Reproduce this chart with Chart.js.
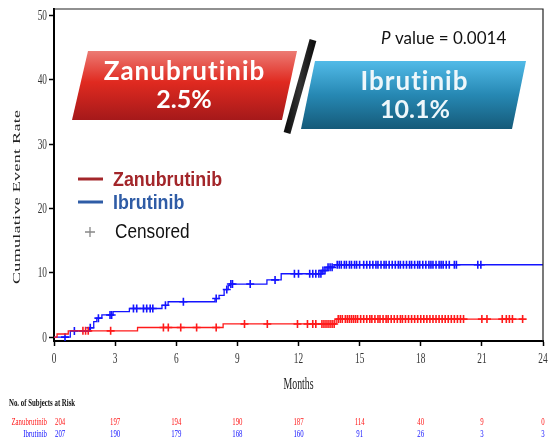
<!DOCTYPE html>
<html>
<head>
<meta charset="utf-8">
<script src="https://cdn.jsdelivr.net/npm/chart.js@4.4.0/dist/chart.umd.min.js"></script>
<style>
  html, body { margin: 0; padding: 0; background: #fff; }
  canvas { display: block; }
</style>
</head>
<body>
<canvas id="km" width="550" height="438"></canvas>
<script>
// Axis ticks
const monthTicks = [0, 3, 6, 9, 12, 15, 18, 21, 24];
const rateTicks = [0, 10, 20, 30, 40, 50];

// Kaplan–Meier steps: month and cumulative event rate (%) after each step
const zanuMonths = [0, 0.15, 0.7, 4.1, 8.3, 13.85, 23.0];
const zanuRates  = [0, 0.49, 0.98, 1.5, 2.05, 2.8, 2.8];
const ibruMonths = [0, 0.8, 1.75, 1.95, 2.1, 2.35, 2.9, 3.7, 5.3, 5.6, 7.9, 8.1, 8.35, 8.55, 8.65, 10.45, 11.15, 13.15, 13.4, 13.75, 24];
const ibruRates  = [0, 0.97, 1.45, 2.4, 2.95, 3.45, 3.95, 4.45, 4.95, 5.5, 6.0, 6.5, 7.4, 8.0, 8.25, 8.9, 9.85, 10.35, 10.85, 11.25, 11.25];

// Censoring times (months)
const zanuCensored = [1.42, 1.55, 1.68, 2.78, 5.37, 5.61, 6.22, 7.0, 7.96, 9.35, 10.47, 11.95, 12.44, 12.7, 12.85,
  13.15, 13.25, 13.35, 13.45, 13.55, 13.65, 13.75, 13.95, 14.05, 14.15, 14.3, 14.4, 14.5, 14.6, 14.7, 14.8, 14.9,
  15.05, 15.2, 15.35, 15.5, 15.6, 15.75, 15.9, 16.0, 16.15, 16.3, 16.4, 16.55, 16.7, 16.85, 17.0, 17.1, 17.25,
  17.4, 17.55, 17.7, 17.85, 18.0, 18.15, 18.3, 18.45, 18.6, 18.75, 18.9, 19.05, 19.2, 19.35, 19.5, 19.65, 19.8,
  19.95, 20.1, 21.0, 21.25, 22.0, 22.2, 22.35, 22.5, 23.0];
const ibruCensored = [0.54, 1.0, 1.78, 2.18, 2.75, 2.83, 3.9, 4.06, 4.39, 4.55, 4.72, 4.85, 5.47, 6.35, 7.96, 8.48,
  8.68, 8.76, 9.63, 10.85, 11.8, 12.0, 12.55, 12.7, 12.85, 13.0, 13.1, 13.2, 13.3, 13.45, 13.55, 13.65, 13.9, 14.0,
  14.1, 14.25, 14.35, 14.5, 14.6, 14.75, 14.85, 15.0, 15.2, 15.35, 15.5, 15.65, 15.8, 15.9, 16.05, 16.2, 16.3,
  16.45, 16.6, 16.75, 16.9, 17.0, 17.15, 17.3, 17.45, 17.55, 17.7, 17.85, 17.95, 18.1, 18.25, 18.4, 18.5, 18.6,
  18.75, 18.9, 19.0, 19.1, 19.25, 19.4, 19.65, 19.75, 20.8, 20.95];

// Number at risk
const riskMonths = [0, 3, 6, 9, 12, 15, 18, 21, 24];
const zanuAtRisk = [204, 197, 194, 190, 187, 114, 40, 9, 0];
const ibruAtRisk = [207, 190, 179, 168, 160, 91, 26, 3, 3];

const RED = '#ff1a1a', BLUE = '#1414ff';

function stepPoints(ms, rs) { return ms.map((m, i) => ({ x: m, y: rs[i] })); }
function rateAt(ms, rs, t) {
  let v = rs[0];
  for (let i = 0; i < ms.length; i++) if (ms[i] <= t) v = rs[i];
  return v;
}
function censorPoints(cs, ms, rs) { return cs.map(t => ({ x: t, y: rateAt(ms, rs, t) })); }

function txt(ctx, s, x, y, o) {
  ctx.save();
  ctx.font = o.font;
  ctx.fillStyle = o.color || '#000';
  ctx.textAlign = o.align || 'left';
  ctx.textBaseline = o.baseline || 'middle';
  ctx.translate(x, y);
  if (o.rot) ctx.rotate(o.rot);
  ctx.scale(o.sx || 1, o.sy || 1);
  let dx = 0;
  if (o.spacing) {
    ctx.letterSpacing = o.spacing + 'px';
    if (ctx.textAlign === 'center') dx = o.spacing / 2;
  }
  ctx.fillText(s, dx, 0);
  ctx.restore();
}

function banner(ctx, pts, stops) {
  const top = pts[0][1], bot = pts[2][1];
  const g = ctx.createLinearGradient(0, top, 0, bot);
  stops.forEach(s => g.addColorStop(s[0], s[1]));
  ctx.save();
  ctx.beginPath();
  ctx.moveTo(pts[0][0], pts[0][1]);
  for (let i = 1; i < pts.length; i++) ctx.lineTo(pts[i][0], pts[i][1]);
  ctx.closePath();
  ctx.fillStyle = g;
  ctx.fill();
  ctx.restore();
}

const decorations = {
  id: 'decorations',
  afterDraw(chart) {
    const { ctx, chartArea: a, scales: { x, y } } = chart;
    const serif = '"Liberation Serif", "Times New Roman", serif';

    // plot frame (top and right sides)
    ctx.save();
    ctx.strokeStyle = '#222';
    ctx.lineWidth = 1.2;
    ctx.beginPath();
    ctx.moveTo(a.left, a.top); ctx.lineTo(a.right, a.top); ctx.lineTo(a.right, a.bottom);
    ctx.stroke();
    ctx.restore();

    // tick labels
    monthTicks.forEach(m => txt(ctx, String(m), x.getPixelForValue(m), 359,
      { font: '15px ' + serif, color: '#333', align: 'center', sx: 0.62 }));
    rateTicks.forEach(r => txt(ctx, String(r), 47, y.getPixelForValue(r) + 0.5,
      { font: '15px ' + serif, color: '#333', align: 'right', sx: 0.62 }));

    // axis titles
    txt(ctx, 'Months', (a.left + a.right) / 2, 385,
      { font: '17px ' + serif, color: '#222', align: 'center', sx: 0.58 });
    txt(ctx, 'Cumulative Event Rate', 17, 197,
      { font: '18px ' + serif, color: '#222', align: 'center', rot: -Math.PI / 2, sy: 0.62, spacing: 0.3 });

    // number at risk table
    txt(ctx, 'No. of Subjects at Risk', 9, 403, { font: 'bold 11px ' + serif, color: '#111', sx: 0.62 });
    txt(ctx, 'Zanubrutinib', 47, 422, { font: '11px ' + serif, color: RED, align: 'right', sx: 0.62 });
    txt(ctx, 'Ibrutinib', 47, 434, { font: '11px ' + serif, color: BLUE, align: 'right', sx: 0.62 });
    riskMonths.forEach((m, i) => {
      const px = x.getPixelForValue(m);
      const opt = i === 0 ? { align: 'left', px: px + 1 } : { align: 'center', px };
      txt(ctx, String(zanuAtRisk[i]), opt.px, 422, { font: '11px ' + serif, color: RED, align: opt.align, sx: 0.62 });
      txt(ctx, String(ibruAtRisk[i]), opt.px, 434, { font: '11px ' + serif, color: BLUE, align: opt.align, sx: 0.62 });
    });

    // legend
    const sans = '"Liberation Sans", Arial, sans-serif';
    ctx.save();
    ctx.lineWidth = 3;
    ctx.strokeStyle = '#a3262a';
    ctx.beginPath(); ctx.moveTo(78, 179); ctx.lineTo(103, 179); ctx.stroke();
    ctx.strokeStyle = '#2f5ca6';
    ctx.beginPath(); ctx.moveTo(78, 202); ctx.lineTo(103, 202); ctx.stroke();
    ctx.strokeStyle = '#888';
    ctx.lineWidth = 1.3;
    ctx.beginPath(); ctx.moveTo(85, 232); ctx.lineTo(95, 232); ctx.moveTo(90, 227); ctx.lineTo(90, 237); ctx.stroke();
    ctx.restore();
    txt(ctx, 'Zanubrutinib', 113, 180, { font: 'bold 21px ' + sans, color: '#a3262a', sx: 0.85 });
    txt(ctx, 'Ibrutinib', 113, 203, { font: 'bold 21px ' + sans, color: '#2f5ca6', sx: 0.85 });
    txt(ctx, 'Censored', 115, 232, { font: '20px ' + sans, color: '#111', sx: 0.86 });

    // headline banners
    banner(ctx, [[88, 51], [297, 51], [282, 120], [72, 120]],
      [[0, '#ec7b74'], [0.45, '#e02a20'], [1, '#a5191a']]);
    banner(ctx, [[315, 61], [526, 61], [512, 129], [301, 129]],
      [[0, '#52bbe8'], [0.5, '#2688b3'], [1, '#155a79']]);
    const slash = ctx.createLinearGradient(287, 0, 313, 0);
    slash.addColorStop(0, '#111'); slash.addColorStop(0.5, '#333'); slash.addColorStop(1, '#111');
    ctx.save();
    ctx.strokeStyle = slash;
    ctx.lineWidth = 7;
    ctx.beginPath(); ctx.moveTo(313, 40); ctx.lineTo(287, 133); ctx.stroke();
    ctx.restore();

    const gill = '"Lato", "Open Sans", sans-serif';
    txt(ctx, 'Zanubrutinib', 184, 72, { font: 'bold 26px ' + gill, color: '#fff', align: 'center', spacing: 1 });
    txt(ctx, '2.5%', 184, 100, { font: 'bold 25px ' + gill, color: '#fff', align: 'center' });
    txt(ctx, 'Ibrutinib', 414, 82, { font: 'bold 26px ' + gill, color: '#eef7fb', align: 'center', spacing: 1 });
    txt(ctx, '10.1%', 415, 110, { font: 'bold 25px ' + gill, color: '#eef7fb', align: 'center' });

    // p value
    ctx.save();
    ctx.font = 'italic 17px ' + gill;
    const pw = ctx.measureText('P').width;
    ctx.restore();
    txt(ctx, 'P', 381, 39, { font: 'italic 17px ' + gill, color: '#111' });
    txt(ctx, ' value = 0.0014', 381 + pw, 39, { font: '17px ' + gill, color: '#111' });
  }
};

new Chart(document.getElementById('km'), {
  type: 'line',
  data: {
    datasets: [
      { label: 'Zanubrutinib', data: stepPoints(zanuMonths, zanuRates), stepped: true,
        borderColor: RED, borderWidth: 1.3, pointRadius: 0, fill: false },
      { label: 'Ibrutinib', data: stepPoints(ibruMonths, ibruRates), stepped: true,
        borderColor: BLUE, borderWidth: 1.3, pointRadius: 0, fill: false },
      { label: 'Zanubrutinib censored', data: censorPoints(zanuCensored, zanuMonths, zanuRates), showLine: false,
        pointStyle: 'cross', pointRadius: 4, pointBorderWidth: 1.6, borderColor: RED, pointBorderColor: RED },
      { label: 'Ibrutinib censored', data: censorPoints(ibruCensored, ibruMonths, ibruRates), showLine: false,
        pointStyle: 'cross', pointRadius: 4, pointBorderWidth: 1.6, borderColor: BLUE, pointBorderColor: BLUE }
    ]
  },
  options: {
    responsive: false,
    animation: false,
    devicePixelRatio: 1,
    layout: { padding: { top: 9, right: 7, bottom: 0, left: 0 } },
    plugins: { legend: { display: false }, tooltip: { enabled: false } },
    scales: {
      x: {
        type: 'linear', min: 0, max: 24,
        afterBuildTicks: s => { s.ticks = monthTicks.map(v => ({ value: v })); },
        afterFit: s => { s.height = 97; },
        ticks: { display: false },
        grid: { drawOnChartArea: false, drawTicks: true, tickLength: 5, tickColor: '#000', tickWidth: 1.5 },
        border: { display: true, color: '#000', width: 2 }
      },
      y: {
        type: 'linear', min: -0.6, max: 51,
        afterBuildTicks: s => { s.ticks = rateTicks.map(v => ({ value: v })); },
        afterFit: s => { s.width = 54; },
        ticks: { display: false },
        grid: { drawOnChartArea: false, drawTicks: true, tickLength: 5, tickColor: '#000', tickWidth: 1.5 },
        border: { display: true, color: '#000', width: 2 }
      }
    }
  },
  plugins: [decorations]
});
</script>
</body>
</html>
